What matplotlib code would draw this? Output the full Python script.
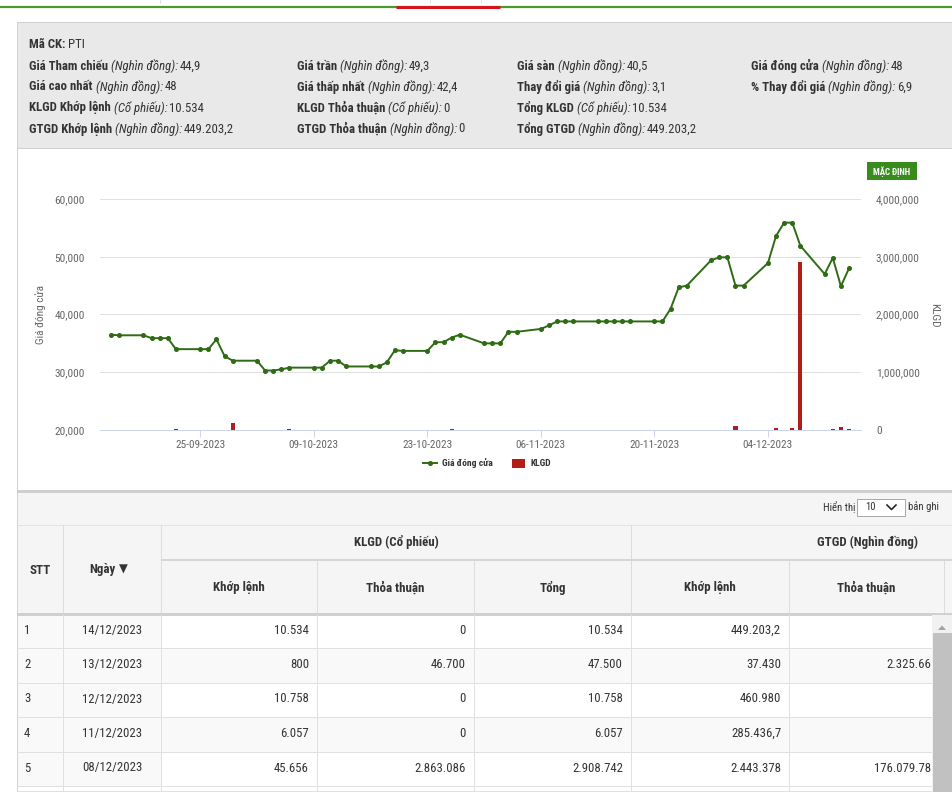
import matplotlib
matplotlib.use('Agg')
import matplotlib.pyplot as plt
from matplotlib import font_manager as fm
from matplotlib.font_manager import FontProperties
from matplotlib.patches import Rectangle, Polygon
import pandas as pd

# ---------------- data ----------------
trade_dates = [
    '2023-09-14', '2023-09-15', '2023-09-18', '2023-09-19', '2023-09-20', '2023-09-21', '2023-09-22',
    '2023-09-25', '2023-09-26', '2023-09-27', '2023-09-28', '2023-09-29',
    '2023-10-02', '2023-10-03', '2023-10-04', '2023-10-05', '2023-10-06',
    '2023-10-09', '2023-10-10', '2023-10-11', '2023-10-12', '2023-10-13',
    '2023-10-16', '2023-10-17', '2023-10-18', '2023-10-19', '2023-10-20',
    '2023-10-23', '2023-10-24', '2023-10-25', '2023-10-26', '2023-10-27',
    '2023-10-30', '2023-10-31', '2023-11-01', '2023-11-02', '2023-11-03',
    '2023-11-06', '2023-11-07', '2023-11-08', '2023-11-09', '2023-11-10',
    '2023-11-13', '2023-11-14', '2023-11-15', '2023-11-16', '2023-11-17',
    '2023-11-20', '2023-11-21', '2023-11-22', '2023-11-23', '2023-11-24',
    '2023-11-27', '2023-11-28', '2023-11-29', '2023-11-30', '2023-12-01',
    '2023-12-04', '2023-12-05', '2023-12-06', '2023-12-07', '2023-12-08',
    '2023-12-11', '2023-12-12', '2023-12-13', '2023-12-14']
close_price = [
    36500, 36400, 36400, 35900, 35900, 35900, 34000,
    34000, 34000, 35700, 32800, 32000,
    32000, 30300, 30300, 30500, 30800,
    30800, 30800, 32000, 32000, 31000,
    31000, 31000, 31700, 33800, 33700,
    33700, 35200, 35200, 36000, 36500,
    35000, 35000, 35000, 37000, 37000,
    37500, 38100, 38800, 38800, 38800,
    38800, 38800, 38800, 38800, 38800,
    38800, 38800, 41000, 44700, 45000,
    49400, 49900, 49900, 45000, 45000,
    48900, 53600, 55900, 55900, 51900,
    47000, 49800, 44900, 48000]
volume = [
    3000, 2000, 2500, 3000, 2000, 2000, 15000,
    3000, 2500, 4000, 5000, 120000,
    4000, 3000, 2000, 2000, 12000,
    3000, 2000, 4000, 2000, 3000,
    2000, 2000, 3000, 5000, 2000,
    2000, 4000, 2000, 12000, 4000,
    3000, 2000, 2000, 4000, 2000,
    3000, 2000, 3000, 2000, 2000,
    2000, 2000, 2000, 2000, 2000,
    2000, 3000, 5000, 6000, 4000,
    5000, 4000, 3000, 70000, 5000,
    8000, 35000, 6000, 35000, 2908742,
    6057, 10758, 47500, 10534]
date_ticks = ['2023-09-25', '2023-10-09', '2023-10-23', '2023-11-06', '2023-11-20', '2023-12-04']
price_ticks = [20000, 30000, 40000, 50000, 60000]
volume_ticks = [0, 1000000, 2000000, 3000000, 4000000]
series_names = ['Giá đóng cửa', 'KLGD']

info_title = ('Mã CK:', 'PTI')
info_labels = [['Giá Tham chiếu', 'Giá trần', 'Giá sàn', 'Giá đóng cửa'],
               ['Giá cao nhất', 'Giá thấp nhất', 'Thay đổi giá', '% Thay đổi giá'],
               ['KLGD Khớp lệnh', 'KLGD Thỏa thuận', 'Tổng KLGD'],
               ['GTGD Khớp lệnh', 'GTGD Thỏa thuận', 'Tổng GTGD']]
info_units = [['(Nghìn đồng):'] * 4, ['(Nghìn đồng):'] * 4,
              ['(Cổ phiếu):'] * 3, ['(Nghìn đồng):'] * 3]
info_values = [['44,9', '49,3', '40,5', '48'],
               ['48', '42,4', '3,1', '6,9'],
               ['10.534', '0', '10.534'],
               ['449.203,2', '0', '449.203,2']]

tbl_stt = ['1', '2', '3', '4', '5']
tbl_date = ['14/12/2023', '13/12/2023', '12/12/2023', '11/12/2023', '08/12/2023']
tbl_kl_khop = ['10.534', '800', '10.758', '6.057', '45.656']
tbl_kl_thoa = ['0', '46.700', '0', '0', '2.863.086']
tbl_kl_tong = ['10.534', '47.500', '10.758', '6.057', '2.908.742']
tbl_gt_khop = ['449.203,2', '37.430', '460.980', '285.436,7', '2.443.378']
tbl_gt_thoa = ['', '2.325.66', '', '', '176.079.78']
hdr_groups = ['KLGD (Cổ phiếu)', 'GTGD (Nghìn đồng)']
hdr_cols = ['Khớp lệnh', 'Thỏa thuận', 'Tổng', 'Khớp lệnh', 'Thỏa thuận']

# ---------------- fonts ----------------
def load_fonts():
    ents = fm.fontManager.ttflist
    wmap = {'ultralight': 200, 'light': 300, 'normal': 400, 'regular': 400, 'book': 400,
            'medium': 500, 'roman': 400, 'semibold': 600, 'demibold': 600, 'demi': 600,
            'bold': 700, 'heavy': 800, 'extra bold': 800, 'black': 900}

    def wnum(e):
        w = e.weight
        if isinstance(w, (int, float)):
            return int(w)
        return wmap.get(str(w).lower(), 400)

    def is_cond(e):
        n = e.name.lower()
        s = str(e.stretch).lower()
        f = e.fname.lower()
        if 'extracond' in f or 'ultracond' in f or 'extra-cond' in f:
            return False
        return ('condensed' in s) or ('condensed' in n) or ('narrow' in n)

    fams = {}
    for e in ents:
        if is_cond(e):
            fams.setdefault(e.name, []).append(e)
    order = ['Roboto Condensed', 'Open Sans Condensed', 'Noto Sans', 'Open Sans',
             'DejaVu Sans', 'Liberation Sans Narrow', 'Roboto']
    chosen = None
    for nm in order:
        if nm in fams:
            chosen = fams[nm]
            break

    def pick(lst, tw_, italic):
        c = [e for e in lst if (e.style in ('italic', 'oblique')) == italic]
        if not c:
            c = lst
        c = sorted(c, key=lambda e: (('semicond' in e.fname.lower()), abs(wnum(e) - tw_)))
        return c[0].fname

    if chosen:
        return {'r': pick(chosen, 400, False), 'b': pick(chosen, 700, False),
                'i': pick(chosen, 400, True)}
    files = {}
    for k, (w, st) in {'r': (400, 'normal'), 'b': (700, 'normal'), 'i': (400, 'italic')}.items():
        files[k] = fm.findfont(FontProperties(family='Roboto', weight=w, style=st))
    return files


FILES = load_fonts()


def fp(kind, size):
    return FontProperties(fname=FILES[kind], size=size)


W, H = 952, 792
fig = plt.figure(figsize=(W / 100, H / 100), dpi=100)
fig.patch.set_facecolor('white')
bg = fig.add_axes([0, 0, 1, 1], zorder=0)
bg.set_xlim(0, W)
bg.set_ylim(H, 0)
bg.axis('off')
renderer = fig.canvas.get_renderer()


def tw(s, kind, size):
    t = bg.text(0, 0, s, fontproperties=fp(kind, size))
    w = t.get_window_extent(renderer=renderer).width
    t.remove()
    return w


def fit(s, kind, target):
    return 10.0 * target / tw(s, kind, 10.0)


PX = 0.72  # points per pixel


def rect(x0, y0, x1, y1, fc, ec='none', lw=0, z=1):
    bg.add_patch(Rectangle((x0, y0), x1 - x0, y1 - y0, facecolor=fc, edgecolor=ec,
                           linewidth=lw * PX, zorder=z))


def hline(y, x0, x1, c, lw=1, z=3):
    bg.plot([x0, x1], [y, y], color=c, lw=lw * PX, zorder=z, solid_capstyle='butt')


def vline(x, y0, y1, c, lw=1, z=3):
    bg.plot([x, x], [y0, y1], color=c, lw=lw * PX, zorder=z, solid_capstyle='butt')


def txt(x, y, s, kind, size, color='#333333', ha='left', va='center', **kw):
    return bg.text(x, y, s, fontproperties=fp(kind, size), color=color, ha=ha, va=va,
                   zorder=6, **kw)


# sizes
S_INFO = fit('Giá Tham chiếu', 'b', 79)
S_TICK = fit('60,000', 'r', 30)
S_DATE = fit('25-09-2023', 'r', 50)
S_LEG = fit('Giá đóng cửa', 'b', 50)
S_YLAB = fit('Giá đóng cửa', 'r', 59)
S_BTN = fit('MẶC ĐỊNH', 'b', 37.5)
S_HDR = fit('KLGD (Cổ phiếu)', 'b', 84)
S_DATA = fit('14/12/2023', 'r', 59)
S_SHOW = fit('Hiển thị', 'r', 32)

# ---------------- page frame ----------------
for x in [160, 430, 481]:
    vline(x, 0, 3, '#d8d8d8')
hline(7, 0, W, '#4c9a2a', lw=2.2)
hline(7, 396, 500, '#d3161c', lw=3, z=4)
rect(17, 22, W + 2, 148, '#e9e9e9', ec='#cfcfcf', lw=1)
vline(17, 22, H, '#d2d2d2')

# info block
sp = tw('a a', 'b', S_INFO) - tw('aa', 'b', S_INFO)
txt(29, 45, info_title[0], 'b', S_INFO)
txt(29 + tw(info_title[0], 'b', S_INFO) + sp, 45, info_title[1], 'r', S_INFO)
col_x = [29, 297, 517, 751]
row_y = [66, 87, 108, 129]
for r in range(len(info_labels)):
    for c in range(len(info_labels[r])):
        x = col_x[c]
        y = row_y[r]
        txt(x, y, info_labels[r][c], 'b', S_INFO)
        x += tw(info_labels[r][c], 'b', S_INFO) + sp
        txt(x, y, info_units[r][c], 'i', S_INFO)
        x += tw(info_units[r][c], 'i', S_INFO) + 1.5
        txt(x, y, info_values[r][c], 'r', S_INFO)

# chart extras
rect(867, 162, 917, 180, '#3a8b1e')
txt(892, 171.5, 'MẶC ĐỊNH', 'b', S_BTN, color='white', ha='center')
txt(41, 315, series_names[0], 'r', S_YLAB, color='#666666', ha='center', rotation=90)
txt(934, 315, series_names[1], 'r', S_YLAB, color='#666666', ha='center', rotation=-90)

# ---------------- chart ----------------
d = pd.to_datetime(trade_dates)
ax1 = fig.add_axes([100 / W, 1 - 430 / H, 760.7 / W, 231 / H], zorder=2)
ax2 = ax1.twinx()
ax1.set_zorder(3)
ax2.set_zorder(2)
ax1.patch.set_visible(False)
ax2.patch.set_visible(False)

bars = ax2.bar(d, volume, width=0.5, color='#b11d17', zorder=2)
line, = ax1.plot(d, close_price, color='#2f6b15', lw=1.4, marker='o', ms=2.6,
                 mfc='#2f6b15', mec='#2f6b15', zorder=3)

ax1.set_xlim(d[0] - pd.Timedelta(days=1.36), d[-1] + pd.Timedelta(days=1.44))
ax1.set_ylim(price_ticks[0], price_ticks[-1])
ax2.set_ylim(volume_ticks[0], volume_ticks[-1])

tk = pd.to_datetime(date_ticks)
ax1.set_xticks(tk, [t.strftime('%d-%m-%Y') for t in tk], fontproperties=fp('r', S_DATE),
               color='#666666')
ax1.set_yticks(price_ticks, [f'{v:,}' for v in price_ticks], fontproperties=fp('r', S_TICK),
               color='#666666')
ax2.set_yticks(volume_ticks, [f'{v:,}' for v in volume_ticks], fontproperties=fp('r', S_TICK),
               color='#666666')
ax1.tick_params(axis='x', direction='out', length=5, width=PX, color='#ccd6eb', pad=2.5)
ax1.tick_params(axis='y', length=0, pad=10.8)
ax2.tick_params(axis='y', length=0, pad=11)
for s in ['top', 'left', 'right']:
    ax1.spines[s].set_visible(False)
ax1.spines['bottom'].set_color('#ccd6eb')
ax1.spines['bottom'].set_linewidth(PX)
for s in ax2.spines.values():
    s.set_visible(False)
ax2.set_axisbelow(True)
ax2.grid(axis='y', color='#e0e0e0', lw=PX)

fig.legend(handles=[line, bars], labels=series_names, loc='center',
           bbox_to_anchor=(487 / W, 1 - 463.5 / H), ncol=2, frameon=False,
           prop=fp('b', S_LEG), labelcolor='#333333', handlelength=1.45,
           handleheight=1.05, handletextpad=0.55, columnspacing=2.0, borderpad=0)

# ---------------- table ----------------
hline(491, 17, W, '#cfcfcf', lw=3)
rect(17, 492.5, W, 525, '#f5f5f5')
hline(525, 17, W, '#e2e2e2')
txt(855, 507, 'Hiển thị', 'r', S_SHOW, ha='right')
rect(857, 499, 905, 515.5, 'white', ec='#a9a9a9', lw=1, z=4)
txt(870, 507.5, '10', 'r', S_SHOW, ha='center')
bg.plot([887, 891.5, 896], [505, 509.5, 505], color='#222222', lw=1.6 * PX, zorder=6)
txt(908, 507, 'bản ghi', 'r', S_SHOW)

rect(17, 525.5, W, 614, '#f5f5f5')
cols = [17, 63, 161, 317, 474, 631, 789, 944]
for x in [63, 161, 631]:
    vline(x, 525, 614, '#dddddd')
for x in [317, 474, 789, 944]:
    vline(x, 560, 614, '#dddddd')
hline(560, 161, W, '#d6d6d6', lw=2)
txt(40, 570, 'STT', 'b', S_HDR, ha='center')
wn = tw('Ngày', 'b', S_HDR)
txt(89, 570, 'Ngày', 'b', S_HDR)
bg.text(89 + wn + 4, 569.5, '▼', fontproperties=FontProperties(family='DejaVu Sans', size=S_HDR * 0.9),
        color='#333333', ha='left', va='center', zorder=6)
txt((161 + 631) / 2, 542, hdr_groups[0], 'b', S_HDR, ha='center')
txt(867.5, 542, hdr_groups[1], 'b', S_HDR, ha='center')
for i, h in enumerate(hdr_cols):
    txt((cols[i + 2] + cols[i + 3]) / 2, 588, h, 'b', S_HDR, ha='center')

row_b = [614, 648, 682.5, 717, 751.5, 786]
for i in range(5):
    y0, y1 = row_b[i], row_b[i + 1]
    if i % 2 == 1:
        rect(17, y0, W, y1, '#f9f9f9')
    rect(17, y0, 161, y1, '#f9f9f9')
for y in row_b[1:]:
    hline(y, 17, W, '#e0e0e0')
hline(row_b[0], 17, W, '#d0d0d0', lw=3)
hline(H - 1, 17, W, '#e0e0e0')
for x in cols[1:7]:
    vline(x, 614, H, '#e0e0e0')
num_cols = [tbl_kl_khop, tbl_kl_thoa, tbl_kl_tong, tbl_gt_khop, tbl_gt_thoa]
for i in range(5):
    y = row_b[i] + 16.5
    txt(24, y, tbl_stt[i], 'r', S_DATA)
    txt(112, y, tbl_date[i], 'r', S_DATA, ha='center')
    for j, colv in enumerate(num_cols):
        if colv[i]:
            right = cols[j + 3] - 8 if j < 4 else 931
            txt(right, y, colv[i], 'r', S_DATA, ha='right')

# scrollbar
rect(932, 614.5, W, H, '#f1f1f1', z=5)
rect(932.5, 633, W, H, '#c1c1c1', z=5)
bg.add_patch(Polygon([[938, 630], [946, 630], [942, 625.5]], closed=True, facecolor='#a3a3a3',
                     edgecolor='none', zorder=6))

fig.savefig('out.png', dpi=100)
